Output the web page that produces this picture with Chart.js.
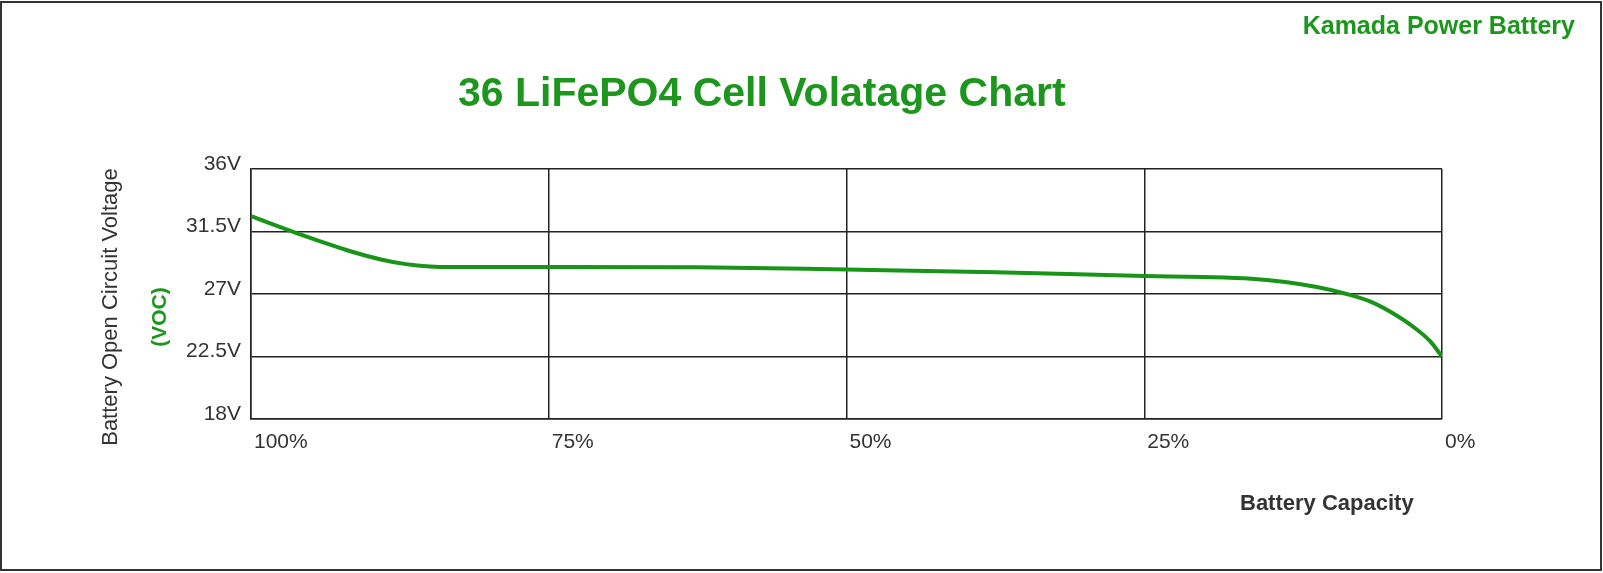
<!DOCTYPE html>
<html>
<head>
<meta charset="utf-8">
<script src="https://cdn.jsdelivr.net/npm/chart.js@4"></script>
<style>
  body { margin: 0; background: #fff; font-family: "Liberation Sans", Arial, sans-serif; }
  #wrap { position: relative; width: 1603px; height: 573px; overflow: hidden; }
  #frame { position: absolute; left: 0; top: 1px; width: 1602px; height: 570px; box-sizing: border-box; border: 2px solid #333; }
  #chart { position: absolute; left: 0; top: 0; }
  .txt { position: absolute; white-space: nowrap; line-height: 1; }
  #brand { right: 28px; top: 13px; font-size: 25px; font-weight: bold; color: #1c961c; }
  #title { left: 458px; top: 72px; font-size: 41px; font-weight: bold; color: #1c961c; }
  #xTitle { left: 1240px; top: 492px; font-size: 22px; font-weight: bold; color: #333; }
  .rot { position: absolute; width: 0; height: 0; }
  .rot span { position: absolute; white-space: nowrap; line-height: 1; transform: translate(-50%, -50%) rotate(-90deg); }
  #yTitle { left: 110px; top: 307px; }
  #yTitle span { font-size: 22px; color: #333; }
  #yUnit { left: 158px; top: 317px; }
  #yUnit span { font-size: 21px; font-weight: bold; color: #1c961c; }
</style>
</head>
<body>
<div id="wrap">
  <canvas id="chart" width="1603" height="573"></canvas>
  <div id="frame"></div>
  <div class="txt" id="brand">Kamada Power Battery</div>
  <div class="txt" id="title">36 LiFePO4 Cell Volatage Chart</div>
  <div class="txt" id="xTitle">Battery Capacity</div>
  <div class="rot" id="yTitle"><span>Battery Open Circuit Voltage</span></div>
  <div class="rot" id="yUnit"><span>(VOC)</span></div>
</div>
<script>
// battery capacity (%) and open circuit voltage (V)
const capacity = [100, 96, 92, 89, 87, 85, 83, 75, 62.5, 50, 37.5, 25, 20, 16, 13, 10.5, 8, 6, 4.3, 2.2, 1, 0]
const voltage = [32.6, 31.33, 30.17, 29.47, 29.15, 28.98, 28.94, 28.94, 28.92, 28.76, 28.57, 28.29, 28.22, 28.1, 27.85, 27.5, 27.0, 26.45, 25.7, 24.5, 23.6, 22.5]
const voltTicks = [18, 22.5, 27, 31.5, 36]
const capTicks = [100, 75, 50, 25, 0]

const points = capacity.map((c, i) => ({x: c, y: voltage[i]}))
const lineColor = '#189418'
const gridColor = '#222'
const tickFont = {family: 'Liberation Sans', size: 21}

const voltChart = new Chart(document.querySelector('#chart'), {
    type: 'line',
    data: {
        datasets: [{
            label: 'VOC',
            data: points,
            borderColor: lineColor,
            borderWidth: 4,
            pointRadius: 0,
            cubicInterpolationMode: 'monotone',
            fill: false
        }]
    },
    options: {
        responsive: false,
        animation: false,
        devicePixelRatio: 1,
        layout: {
            padding: {left: 171, top: 169, right: 161, bottom: 114}
        },
        plugins: {
            legend: {display: false},
            tooltip: {enabled: false}
        },
        scales: {
            x: {
                type: 'linear',
                min: 0,
                max: 100,
                reverse: true,
                afterBuildTicks: (scale) => { scale.ticks = capTicks.map(v => ({value: v})) },
                afterFit: (scale) => { scale.height = 40 },
                grid: {color: gridColor, lineWidth: 1.5, drawTicks: false},
                border: {display: true, color: gridColor, width: 1.5},
                ticks: {
                    align: 'start',
                    labelOffset: 3,
                    padding: 11,
                    color: '#333',
                    font: tickFont,
                    maxRotation: 0,
                    callback: (v) => v + '%'
                }
            },
            y: {
                type: 'linear',
                min: 18,
                max: 36,
                afterBuildTicks: (scale) => { scale.ticks = voltTicks.map(v => ({value: v})) },
                afterFit: (scale) => { scale.width = 80 },
                grid: {color: gridColor, lineWidth: 1.5, drawTicks: false},
                border: {display: true, color: gridColor, width: 1.5},
                ticks: {
                    labelOffset: -5,
                    padding: 10,
                    color: '#333',
                    font: tickFont,
                    callback: (v) => v + 'V'
                }
            }
        }
    }
})
</script>
</body>
</html>
